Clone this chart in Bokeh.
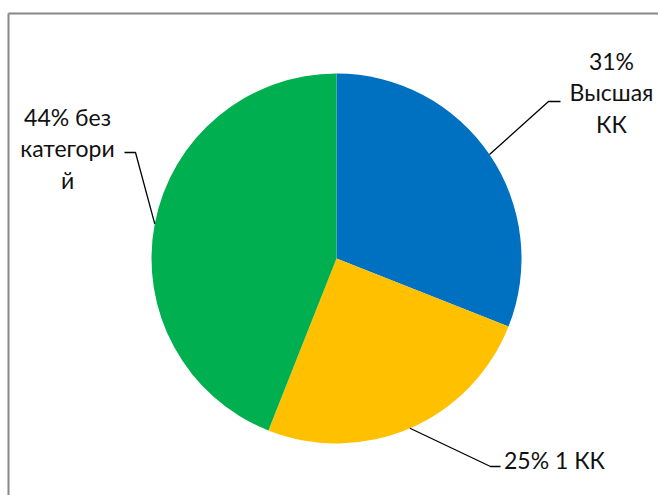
import math
from bokeh.plotting import figure
from bokeh.models import Range1d
from bokeh.core.properties import value
from bokeh.embed import file_html
from bokeh.resources import INLINE

# ---- data ----
categories = ["Высшая КК", "1 КК", "без категорий"]
values = [31, 25, 44]
colors = ["#0070C0", "#FFC000", "#00B050"]
label_lines = [["31%", "Высшая", "КК"], ["25% 1 КК"], ["44% без", "категори", "й"]]

# ---- layout (picture pixel coordinates) ----
W, H = 658, 495
CX, CY, R = 336, 258, 185
label_anchor = [(611, 60), (554, 459), (67, 116)]   # centre x, first baseline y
line_step = 31.5
elbow = [((548, 101), (560, 101)), ((490, 466), (500, 466)), ((135, 152), (124, 152))]

def Y(ypix):
    return H - ypix

p = figure(width=W, height=H, output_backend="svg", toolbar_location=None,
           x_range=Range1d(0, W), y_range=Range1d(0, H),
           min_border=0, outline_line_color=None)
p.axis.visible = False
p.grid.visible = False
p.background_fill_color = "white"
p.border_fill_color = "white"

total = sum(values)
starts, ends, mids = [], [], []
acc = 0.0
for v in values:
    a0 = math.pi / 2 - 2 * math.pi * acc / total
    acc += v
    a1 = math.pi / 2 - 2 * math.pi * acc / total
    starts.append(a0)
    ends.append(a1)
    mids.append((a0 + a1) / 2)

p.wedge(x=[CX] * len(values), y=[Y(CY)] * len(values), radius=R,
        start_angle=starts, end_angle=ends, direction="clock",
        fill_color=colors, line_color=None)

# leader lines
for m, (e1, e2) in zip(mids, elbow):
    sx = CX + R * math.cos(m)
    sy = Y(CY) + R * math.sin(m)
    p.line(x=[sx, e1[0], e2[0]], y=[sy, Y(e1[1]), Y(e2[1])],
           line_color="black", line_width=1.3)

# labels
tx, ty, tt = [], [], []
for lines, (ax, ay) in zip(label_lines, label_anchor):
    for i, s in enumerate(lines):
        tx.append(ax)
        ty.append(Y(ay + i * line_step))
        tt.append(s)
p.text(x=tx, y=ty, text=tt, text_align="center", text_baseline="alphabetic",
       text_font=value("Lato"), text_font_size="23px", text_color="#111111")

# frame (partly outside the window)
p.line(x=[8, 8], y=[Y(H), Y(13)], line_color="#888888", line_width=2)
p.line(x=[8, W], y=[Y(13), Y(13)], line_color="#888888", line_width=2)

open("out.html", "w").write(file_html(p, INLINE))
